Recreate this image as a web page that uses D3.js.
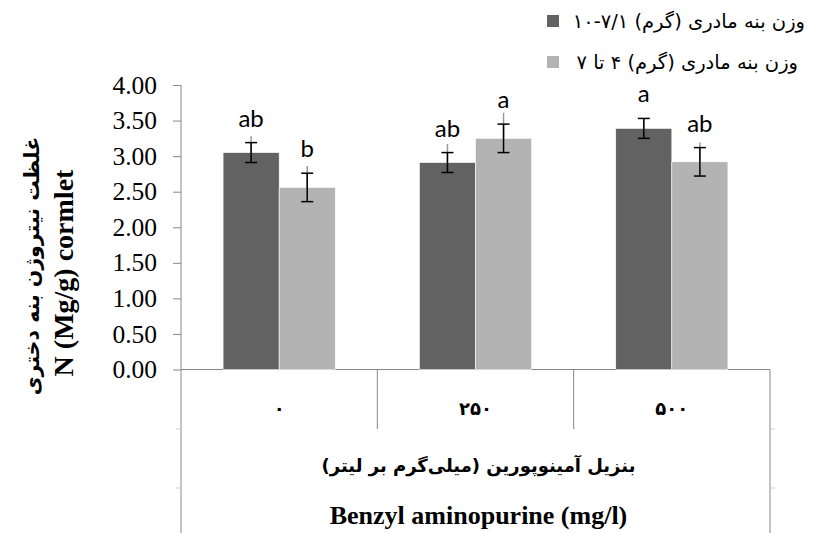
<!DOCTYPE html>
<html>
<head>
<meta charset="utf-8">
<script src="https://cdn.jsdelivr.net/npm/d3@7"></script>
<style>
  body { margin: 0; background: #fff; }
  svg text { fill: #000; }
</style>
</head>
<body>
<svg width="814" height="533"></svg>
<script>
const categories  = ["۰", "۲۵۰", "۵۰۰"];
const seriesNames = ["وزن بنه مادری (گرم) ۷/۱-۱۰", "وزن بنه مادری (گرم) ۴ تا ۷"];
const darkValues  = [3.05, 2.91, 3.39];
const lightValues = [2.56, 3.25, 2.92];
const darkErr     = [0.14, 0.14, 0.14];
const lightErr    = [0.20, 0.20, 0.20];
const darkGrayErr = [0.23, 0.26, 0.14];
const lightGrayErr = [0.30, 0.36, 0.27];
const darkLetters  = ["ab", "ab", "a"];
const lightLetters = ["b", "a", "ab"];
const yTicks = [0, 0.5, 1, 1.5, 2, 2.5, 3, 3.5, 4];

const svg = d3.select("svg");
const plotLeft = 181, plotRight = 770, plotTop = 85, base = 369.5;
const colors = ["#626262", "#b3b3b3"];
const axisColor = "#888";
const serif = "'Times New Roman', 'Liberation Serif', serif";
const arabic = "'DejaVu Sans', sans-serif";

const x = d3.scaleBand().domain(categories).range([plotLeft, plotRight]);
const x1 = d3.scaleBand().domain([0, 1]).range([0, x.bandwidth()]).paddingOuter(0.75).paddingInner(0);
const y = d3.scaleLinear().domain([0, 4]).range([base, plotTop]);

// y axis
const yAxis = svg.append("g")
  .attr("transform", `translate(${plotLeft},0)`)
  .call(d3.axisLeft(y).tickValues(yTicks).tickSize(8).tickPadding(16).tickFormat(d3.format(".2f")));
yAxis.select(".domain").attr("stroke", axisColor).attr("d", `M0,${plotTop}V533`);
yAxis.selectAll(".tick line").attr("stroke", axisColor);
yAxis.selectAll(".tick text")
  .attr("font-family", serif)
  .attr("font-size", 25.5);

// category lines
const grid = svg.append("g").attr("stroke", axisColor).attr("stroke-width", 1);
grid.append("line").attr("x1", plotLeft).attr("x2", plotRight).attr("y1", base).attr("y2", base);
categories.slice(1).forEach(c => {
  grid.append("line").attr("x1", x(c)).attr("x2", x(c)).attr("y1", base).attr("y2", 429);
});
grid.append("line").attr("x1", plotRight).attr("x2", plotRight).attr("y1", base).attr("y2", 533);
[429, 488].forEach(yy => {
  grid.append("line").attr("x1", plotLeft - 5).attr("x2", plotLeft).attr("y1", yy).attr("y2", yy).attr("stroke", "#ccc");
  grid.append("line").attr("x1", plotRight).attr("x2", plotRight + 5).attr("y1", yy).attr("y2", yy).attr("stroke", "#ccc");
});

// bars
const rows = categories.map((c, i) => [
  { c, s: 0, v: darkValues[i], e: darkErr[i], g: darkGrayErr[i], t: darkLetters[i] },
  { c, s: 1, v: lightValues[i], e: lightErr[i], g: lightGrayErr[i], t: lightLetters[i] }
]).flat();

const g = svg.append("g");
g.selectAll("rect").data(rows).join("rect")
  .attr("x", d => x(d.c) + x1(d.s))
  .attr("width", x1.bandwidth())
  .attr("y", d => y(d.v))
  .attr("height", d => base - y(d.v))
  .attr("fill", d => colors[d.s])
  .attr("stroke", "#fff")
  .attr("stroke-width", 0.6);

// error bars
const eb = g.selectAll(".eb").data(rows).join("g")
  .attr("transform", d => `translate(${x(d.c) + x1(d.s) + x1.bandwidth() / 2},0)`);
eb.append("line")
  .attr("y1", d => y(d.v + d.g)).attr("y2", d => y(d.v))
  .attr("stroke", "#999").attr("stroke-width", 1.5);
eb.append("line")
  .attr("y1", d => y(d.v + d.e)).attr("y2", d => y(d.v - d.e))
  .attr("stroke", "#000").attr("stroke-width", 1.5);
[d => d.v + d.e, d => d.v - d.e].forEach(f => {
  eb.append("line")
    .attr("x1", -6).attr("x2", 6)
    .attr("y1", d => y(f(d))).attr("y2", d => y(f(d)))
    .attr("stroke", "#000").attr("stroke-width", 1.5);
});

// letters
eb.append("text")
  .attr("text-anchor", "middle")
  .attr("y", d => y(d.v + d.e) - 16)
  .attr("font-family", "Lato, sans-serif")
  .attr("font-size", 24)
  .text(d => d.t);

// category labels
svg.append("g").selectAll("text").data(categories).join("text")
  .attr("x", d => x(d) + x.bandwidth() / 2)
  .attr("y", 415)
  .attr("text-anchor", "middle")
  .attr("font-family", arabic)
  .attr("font-weight", "bold")
  .attr("font-size", 18)
  .text(d => d);

const midX = (plotLeft + plotRight) / 2 + 3;
svg.append("text")
  .attr("x", midX).attr("y", 472)
  .attr("text-anchor", "middle")
  .attr("direction", "rtl")
  .attr("font-family", arabic)
  .attr("font-weight", "bold")
  .attr("font-size", 18)
  .text("بنزیل آمینوپورین (میلی‌گرم بر لیتر)");
svg.append("text")
  .attr("x", midX).attr("y", 524)
  .attr("text-anchor", "middle")
  .attr("font-family", serif)
  .attr("font-weight", "bold")
  .attr("font-size", 26)
  .text("Benzyl aminopurine (mg/l)");

// y axis title
const yt = svg.append("g").attr("transform", "rotate(-90)");
yt.append("text")
  .attr("x", -266).attr("y", 39)
  .attr("text-anchor", "middle")
  .attr("direction", "rtl")
  .attr("font-family", arabic)
  .attr("font-weight", "bold")
  .attr("font-size", 20.5)
  .text("غلظت نیتروژن بنه دختری");
yt.append("text")
  .attr("x", -273).attr("y", 73)
  .attr("text-anchor", "middle")
  .attr("font-family", serif)
  .attr("font-weight", "bold")
  .attr("font-size", 28)
  .text("N (Mg/g) cormlet");

// legend
const lg = svg.append("g");
seriesNames.forEach((n, i) => {
  const cy = 21 + i * 41;
  lg.append("rect").attr("x", 547).attr("y", cy - 6).attr("width", 12).attr("height", 12).attr("fill", colors[i]);
  lg.append("text")
    .attr("x", 805 - i * 7).attr("y", cy + 7)
    .attr("direction", "rtl")
    .attr("text-anchor", "start")
    .attr("font-family", arabic)
    .attr("font-size", 19.5)
    .text(n);
});
</script>
</body>
</html>
